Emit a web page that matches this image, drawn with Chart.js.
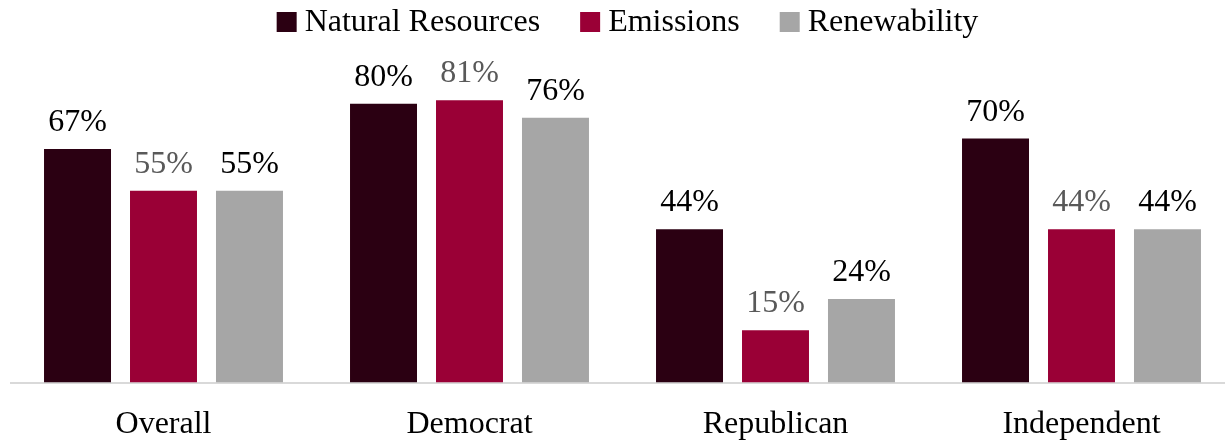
<!DOCTYPE html>
<html lang="en">
<head>
    <meta charset="UTF-8">
    <title>Party Bars</title>
    <script src="https://cdn.jsdelivr.net/npm/chart.js"></script>
    <style>
        html, body { margin: 0; padding: 0; background: white; overflow: hidden; }
        .chart-container { width: 1245px; height: 440px; position: relative; }
    </style>
</head>
<body>
    <div class="chart-container">
        <canvas id="partyChart"></canvas>
    </div>

    <script>
        // Values
        const categories = ['Overall', 'Democrat', 'Republican', 'Independent'];
        const naturalResources = [67, 80, 44, 70];
        const emissions = [55, 81, 15, 44];
        const renewability = [55, 76, 24, 44];

        const FONT = "'Liberation Serif', serif";
        const FONT_SIZE = 32;

        // value labels above each bar
        const valueLabels = {
            id: 'valueLabels',
            afterDatasetsDraw(chart) {
                const ctx = chart.ctx;
                ctx.save();
                ctx.font = FONT_SIZE + 'px ' + FONT;
                ctx.textAlign = 'center';
                ctx.textBaseline = 'alphabetic';
                chart.data.datasets.forEach((ds, i) => {
                    const meta = chart.getDatasetMeta(i);
                    ctx.fillStyle = ds.labelColor;
                    meta.data.forEach((bar, j) => {
                        ctx.fillText(ds.data[j] + '%', bar.x, bar.y - 18);
                    });
                });
                ctx.restore();
            }
        };

        // legend drawn by hand so spacing matches
        const topLegend = {
            id: 'topLegend',
            afterDraw(chart) {
                const ctx = chart.ctx;
                const box = 20, gap = 8, spacing = 40, yMid = 22;
                ctx.save();
                ctx.font = FONT_SIZE + 'px ' + FONT;
                ctx.textBaseline = 'middle';
                const items = chart.data.datasets.map(ds => ({
                    text: ds.label, color: ds.backgroundColor,
                    w: box + gap + ctx.measureText(ds.label).width
                }));
                const total = items.reduce((s, it) => s + it.w, 0) + spacing * (items.length - 1);
                let x = (chart.chartArea.left + chart.chartArea.right) / 2 + 5 - total / 2;
                items.forEach(it => {
                    ctx.fillStyle = it.color;
                    ctx.fillRect(x, yMid - box / 2, box, box);
                    ctx.fillStyle = '#000';
                    ctx.fillText(it.text, x + box + gap, yMid + 1);
                    x += it.w + spacing;
                });
                ctx.restore();
            }
        };

        function makeDataset(label, data, color, labelColor) {
            return {
                label: label,
                data: data,
                backgroundColor: color,
                borderWidth: 0,
                labelColor: labelColor,
                categoryPercentage: 0.843,
                barPercentage: 0.779
            };
        }

        const ctx = document.getElementById('partyChart').getContext('2d');
        new Chart(ctx, {
            type: 'bar',
            data: {
                labels: categories,
                datasets: [
                    makeDataset('Natural Resources', naturalResources, '#2b0012', '#000000'),
                    makeDataset('Emissions', emissions, '#9a0036', '#595959'),
                    makeDataset('Renewability', renewability, '#a6a6a6', '#000000')
                ]
            },
            options: {
                responsive: true,
                maintainAspectRatio: false,
                animation: false,
                layout: { padding: { top: 34, left: 10.5, right: 10.5, bottom: -19 } },
                plugins: {
                    legend: { display: false },
                    tooltip: { enabled: false }
                },
                scales: {
                    x: {
                        grid: { display: false },
                        border: { display: true, color: '#d9d9d9', width: 2 },
                        ticks: {
                            color: '#000',
                            padding: 15,
                            font: { family: FONT, size: FONT_SIZE }
                        }
                    },
                    y: {
                        display: false,
                        min: 0,
                        max: 100
                    }
                }
            },
            plugins: [valueLabels, topLegend]
        });
    </script>
</body>
</html>
